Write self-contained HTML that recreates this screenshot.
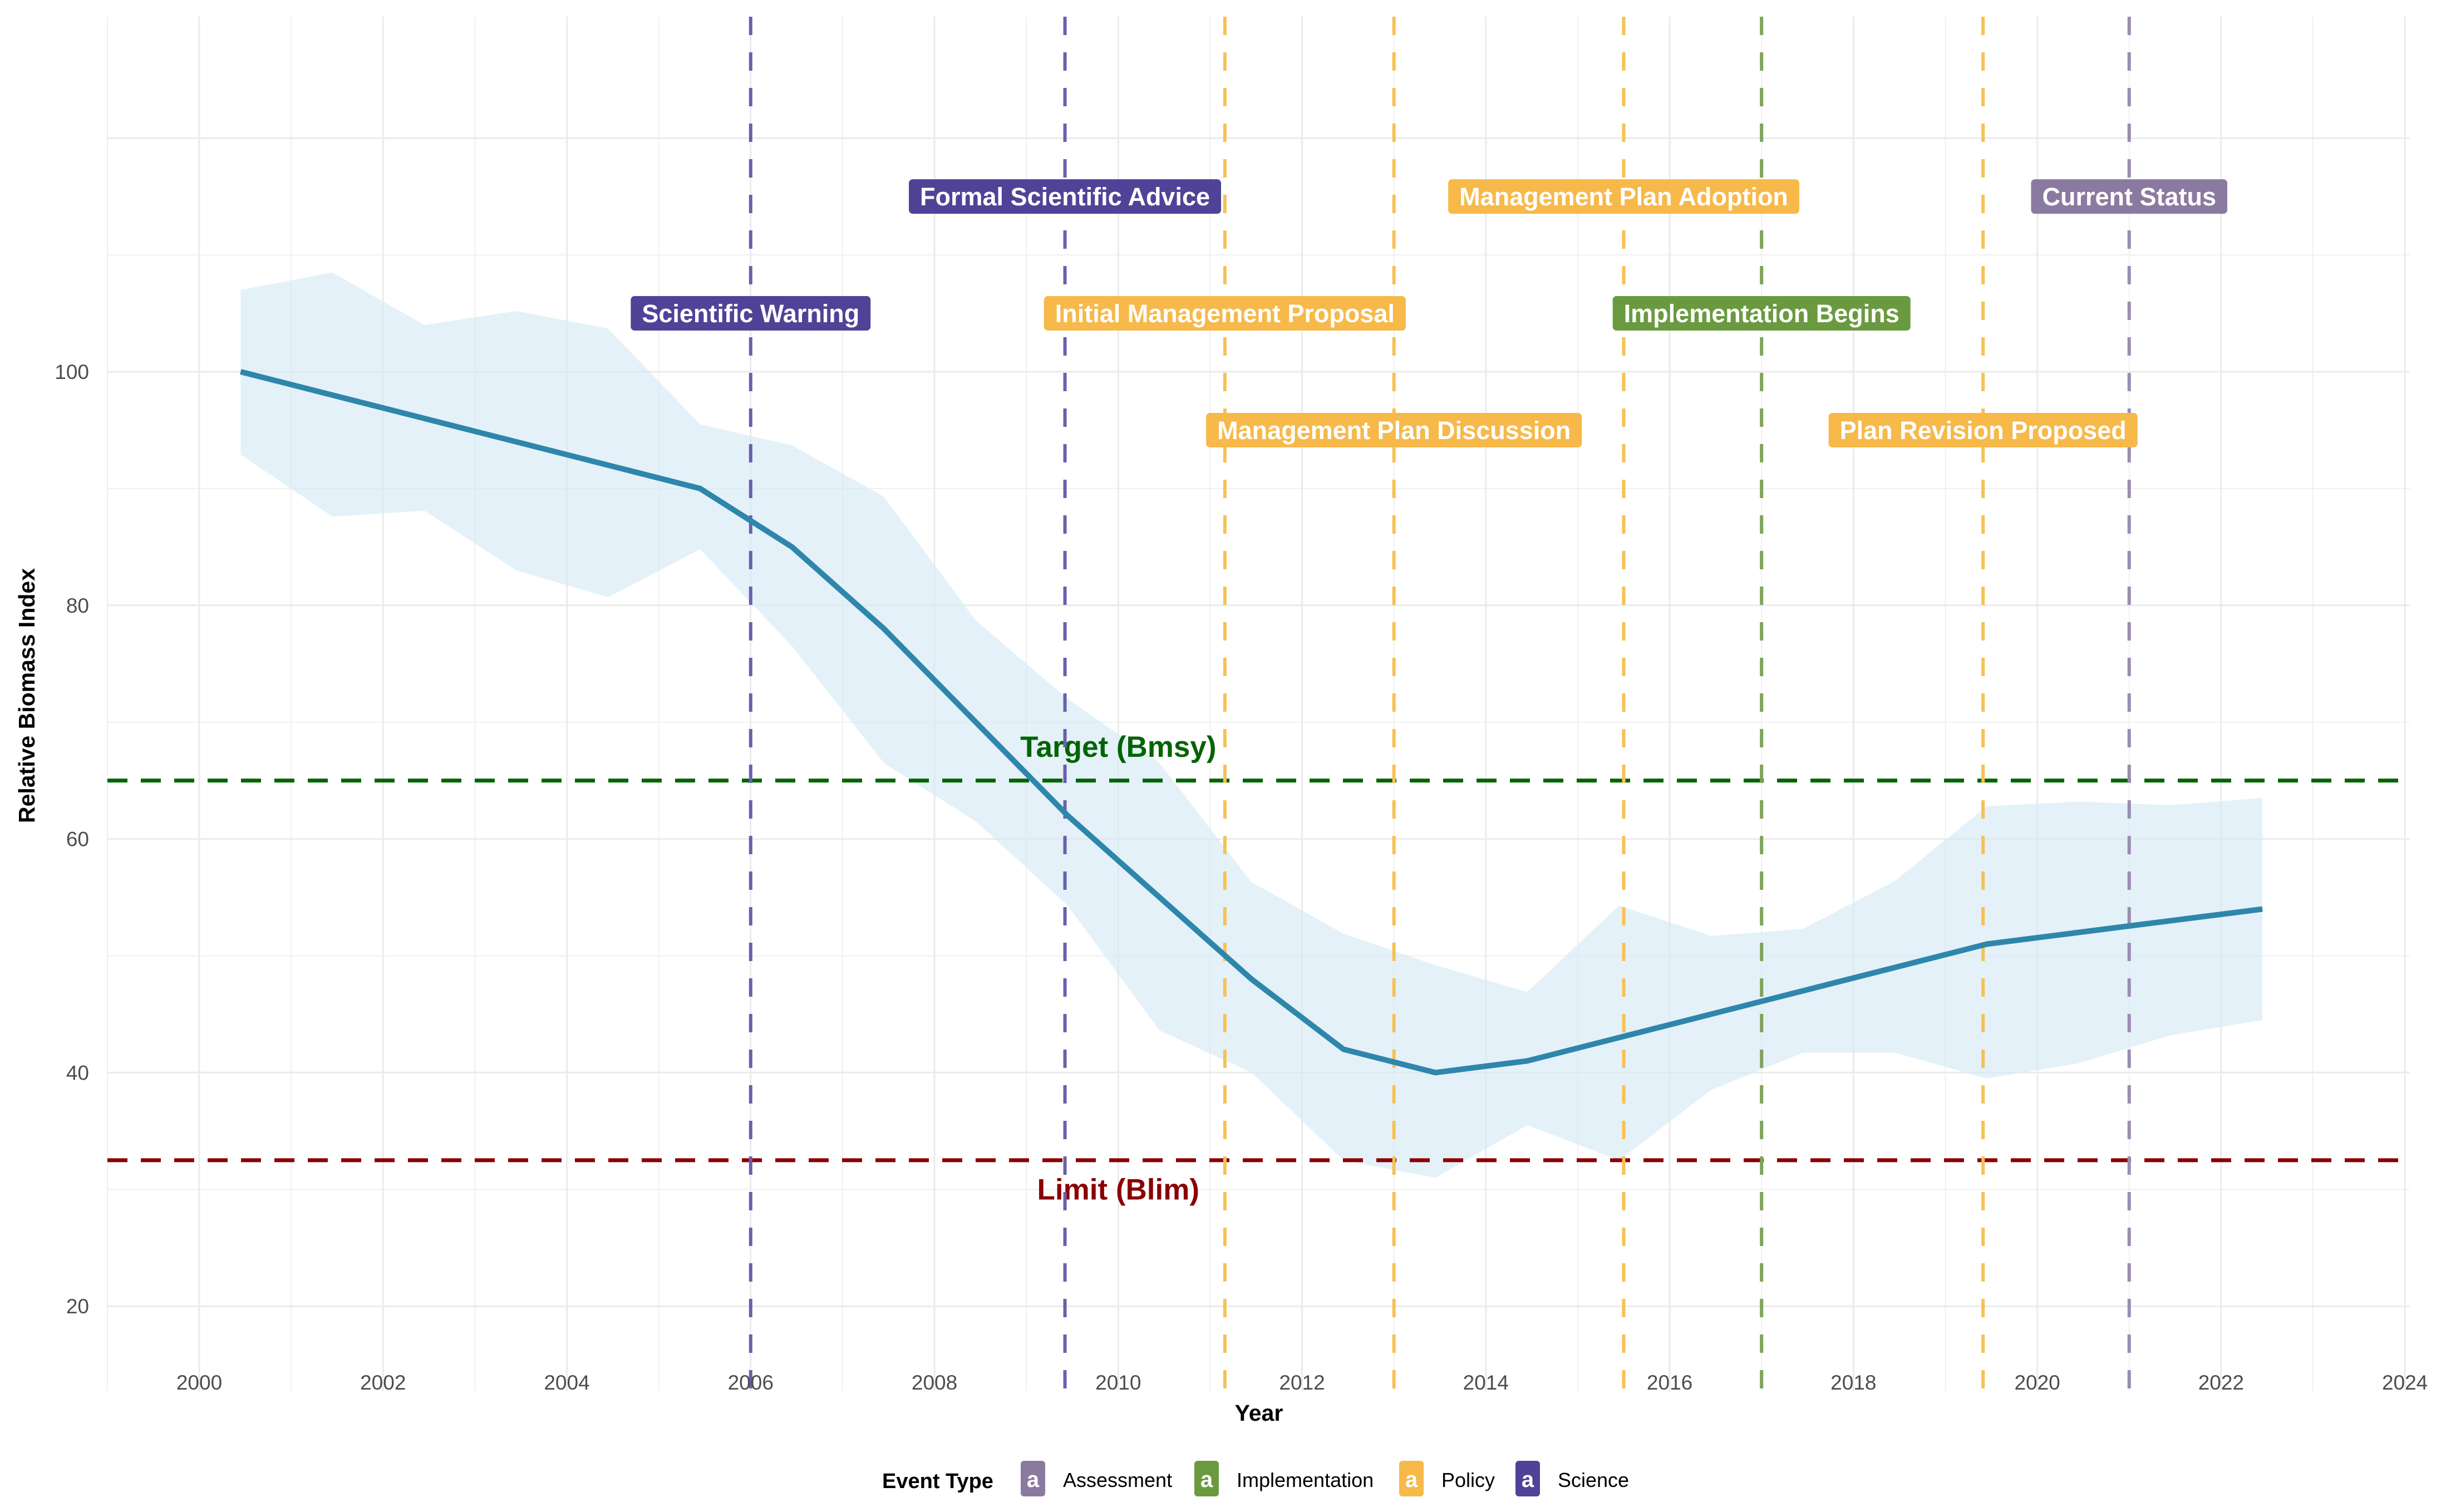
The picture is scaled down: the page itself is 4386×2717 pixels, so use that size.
<!DOCTYPE html>
<html><head><meta charset="utf-8">
<style>
html,body{margin:0;padding:0;background:#fff;}
svg{display:block;font-family:"Liberation Sans",sans-serif;}
</style></head>
<body>
<svg id="chart" width="4386" height="2717" viewBox="0 0 4386 2717" xmlns="http://www.w3.org/2000/svg">
<g id="grid"></g>
<g id="ribbon"></g>
<g id="refs"></g>
<g id="events"></g>
<g id="line"></g>
<g id="labels"></g>
<g id="axes"></g>
<g id="legend"></g>
</svg>
<script>
const years=[2000.45,2001.45,2002.45,2003.45,2004.45,2005.45,2006.45,2007.45,2008.45,2009.45,2010.45,2011.45,2012.45,2013.45,2014.45,2015.45,2016.45,2017.45,2018.45,2019.45,2020.45,2021.45,2022.45];
const biomass=[100,98,96,94,92,90,85,78,70,62,55,48,42,40,41,43,45,47,49,51,52,53,54];
const upper=[107,108.5,104,105.2,103.7,95.5,93.7,89.3,78.7,72,66.5,56.3,51.9,49.2,46.9,54.3,51.7,52.3,56.4,62.8,63.2,62.9,63.5];
const lower=[92.9,87.6,88.1,83,80.7,84.8,76.5,66.5,61.5,54.3,43.6,40,32.5,31,35.5,32.5,38.5,41.7,41.7,39.5,40.8,43.2,44.5];
const eventYears=[2006.0,2009.42,2011.16,2013.0,2015.5,2017.0,2019.41,2021.0];
const eventNames=["Scientific Warning","Formal Scientific Advice","Initial Management Proposal","Management Plan Discussion","Management Plan Adoption","Implementation Begins","Plan Revision Proposed","Current Status"];
const eventTypes=["Science","Science","Policy","Policy","Policy","Implementation","Policy","Assessment"];
const eventLabelY=[105,115,105,95,115,105,95,115];
const xTicks=[2000,2002,2004,2006,2008,2010,2012,2014,2016,2018,2020,2022,2024];
const yTicks=[20,40,60,80,100,120];
const targetValue=65, limitValue=32.5;

const NS="http://www.w3.org/2000/svg";
const X=y=>358+(y-2000)*165.13;
const Y=v=>668+(100-v)*20.99;
const lineCol={Science:"#6a5fad",Policy:"#f7c153",Implementation:"#7ea35a",Assessment:"#9a8db0"};
const boxCol={Science:"#4f4397",Policy:"#f6b94a",Implementation:"#6a9a3f",Assessment:"#8b7aa0"};
function mk(tag,attrs,parent){const e=document.createElementNS(NS,tag);for(const k in attrs)e.setAttribute(k,attrs[k]);parent.appendChild(e);return e;}
const g=id=>document.getElementById(id);
const PL=193,PR=4330,PT=30,PB=2500;

for(let yr=1999;yr<=2024;yr++){const l=mk('line',{x1:X(yr),x2:X(yr),y1:PT,y2:PB,stroke:'#ebebeb','stroke-width':yr%2===0?3:1.5},g('grid'));

}
for(let v=20;v<=120;v+=10){const l=mk('line',{x1:PL,x2:PR,y1:Y(v),y2:Y(v),stroke:'#ebebeb','stroke-width':v%20===0?3:1.5},g('grid'));

}
let d='';years.forEach((yr,i)=>{d+=(i?'L':'M')+X(yr)+','+Y(upper[i]);});
for(let i=years.length-1;i>=0;i--)d+='L'+X(years[i])+','+Y(lower[i]);
const rib=mk('path',{d:d+'Z',fill:'#d5eaf6','fill-opacity':0.65},g('ribbon'));


const tl=mk('line',{x1:PL,x2:PR,y1:Y(targetValue),y2:Y(targetValue),stroke:'#006400','stroke-width':7,'stroke-dasharray':'36 24'},g('refs'));


const ll=mk('line',{x1:PL,x2:PR,y1:Y(limitValue),y2:Y(limitValue),stroke:'#8b0000','stroke-width':7,'stroke-dasharray':'36 24'},g('refs'));


const tt=mk('text',{x:X(2010),y:Y(67.5)+10,'text-anchor':'middle','font-size':53,'font-weight':'bold',fill:'#006400'},g('refs'));tt.textContent='Target (Bmsy)';


const lt=mk('text',{x:X(2010),y:Y(30)+18,'text-anchor':'middle','font-size':53,'font-weight':'bold',fill:'#8b0000'},g('refs'));lt.textContent='Limit (Blim)';


eventYears.forEach((yr,i)=>{const l=mk('line',{x1:X(yr),x2:X(yr),y1:PT,y2:PB,stroke:lineCol[eventTypes[i]],'stroke-width':6,'stroke-dasharray':'33 31'},g('events'));

});
let p='';years.forEach((yr,i)=>{p+=(i?'L':'M')+X(yr)+','+Y(biomass[i]);});
const ml=mk('path',{d:p,fill:'none',stroke:'#2e86ab','stroke-width':10,'stroke-linejoin':'round'},g('line'));


eventYears.forEach((yr,i)=>{const cx=X(yr),cy=Y(eventLabelY[i]);
const grp=mk('g',{},g('labels'));


const t=mk('text',{x:cx,y:cy+16,'text-anchor':'middle','font-size':45,'font-weight':'bold',fill:'#fff'},grp);t.textContent=eventNames[i];
const w=t.getComputedTextLength()+40;
const r=mk('rect',{x:cx-w/2,y:cy-31,width:w,height:62,rx:7,fill:boxCol[eventTypes[i]]},grp);grp.insertBefore(r,t);});
xTicks.forEach(v=>{const t=mk('text',{x:X(v),y:2497,'text-anchor':'middle','font-size':37,fill:'#4d4d4d'},g('axes'));t.textContent=v;

});
yTicks.forEach(v=>{if(v>110)return;const t=mk('text',{x:160,y:Y(v)+13,'text-anchor':'end','font-size':37,fill:'#4d4d4d'},g('axes'));t.textContent=v;

});
const xt=mk('text',{x:2262,y:2553,'text-anchor':'middle','font-size':41,'font-weight':'bold',fill:'#000'},g('axes'));xt.textContent='Year';


const yt=mk('text',{x:0,y:0,'text-anchor':'middle','font-size':41,'font-weight':'bold',fill:'#000',transform:'translate(62,1250) rotate(-90)'},g('axes'));yt.textContent='Relative Biomass Index';


const lg=g('legend');
const lt2=mk('text',{x:1585,y:2674,'font-size':38,'font-weight':'bold',fill:'#000'},lg);lt2.textContent='Event Type';


const legTypes=["Assessment","Implementation","Policy","Science"];
const keyX=[1856,2168,2536,2745];
legTypes.forEach((tp,i)=>{const e=mk('g',{},lg);


mk('rect',{x:keyX[i]-22,y:2625,width:44,height:64,rx:6,fill:boxCol[tp]},e);
const a=mk('text',{x:keyX[i],y:2672,'text-anchor':'middle','font-size':40,'font-weight':'bold',fill:'#fff'},e);a.textContent='a';
const l=mk('text',{x:keyX[i]+54,y:2672,'font-size':36,fill:'#000'},e);l.textContent=tp;});
</script>
</body></html>
